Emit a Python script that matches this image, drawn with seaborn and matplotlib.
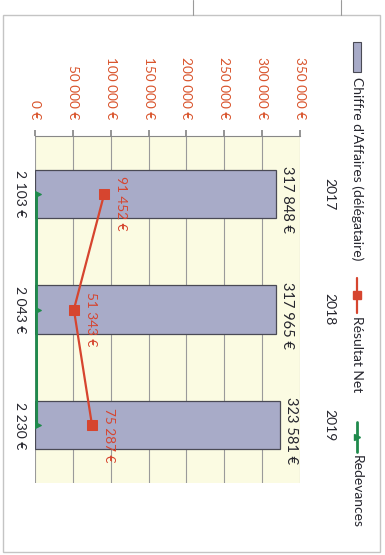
import numpy as np
import pandas as pd
import matplotlib
matplotlib.use("Agg")
import matplotlib.pyplot as plt
from matplotlib.lines import Line2D
from matplotlib.patches import Rectangle
import seaborn as sns

# ---- data ----
annees = ["2017", "2018", "2019"]
chiffre_affaires = [317848, 317965, 323581]
resultat_net = [91452, 51343, 75287]
redevances = [2103, 2043, 2230]
ticks_values = [0, 50000, 100000, 150000, 200000, 250000, 300000, 350000]
legend_labels = ["Chiffre d'Affaires (délégataire)", "Résultat Net", "Redevances"]

def euro(v):
    return f"{v:,}".replace(",", " ") + " €"

sns.set_theme(style="white")
plt.rcParams["font.family"] = ["Lato", "DejaVu Sans"]

W, H = 385, 555
fig = plt.figure(figsize=(W / 100, H / 100), dpi=100)
fig.patch.set_facecolor("white")

def fx(px):
    return px / W

def fy(py):
    return 1 - py / H

# plot area (chart is shown rotated 90 degrees clockwise)
ax = fig.add_axes([fx(35), fy(483), fx(300) - fx(35), fy(136) - fy(483)])
ax.set_facecolor("#fbfbe2")

BAR = "#a8abc8"
RED = "#d6452f"
GREEN = "#1f8a4c"
TXT = "#26262e"

df = pd.DataFrame({"annee": annees, "ca": chiffre_affaires})
sns.barplot(data=df, x="ca", y="annee", orient="h", color=BAR, saturation=1,
            width=0.42, edgecolor="#4a4a55", linewidth=0.9, ax=ax, zorder=3)

pos = np.arange(len(annees))
sns.lineplot(x=resultat_net, y=pos, orient="y", sort=False, color=RED, lw=1.6,
             marker="s", markersize=7, markeredgecolor=RED, ax=ax, zorder=5)
sns.lineplot(x=redevances, y=pos, orient="y", sort=False, color=GREEN, lw=2.0,
             marker=">", markersize=6, markeredgecolor=GREEN, ax=ax, zorder=5)

ax.set_xlim(0, 350000)
ax.set_ylim(2.5, -0.5)
ax.set_xlabel("")
ax.set_ylabel("")

# value axis (top of picture)
ax.xaxis.tick_top()
ax.set_xticks(ticks_values, labels=[euro(v) for v in ticks_values])
for lab in ax.get_xticklabels():
    lab.set_rotation(-90)
    lab.set_color("#d9542c")
    lab.set_fontsize(9.8)
ax.tick_params(axis="x", which="both", top=True, bottom=False, length=4,
               color="#888888", pad=8)

# category axis (right of picture)
ax.yaxis.tick_right()
ax.set_yticks(pos, labels=annees)
for lab in ax.get_yticklabels():
    lab.set_rotation(-90)
    lab.set_color(TXT)
    lab.set_fontsize(10)
    lab.set_va("center")
ax.tick_params(axis="y", which="both", right=False, left=False, length=0, pad=17)

ax.grid(axis="x", color="#9a9a9a", lw=0.8, zorder=0)
ax.grid(axis="y", visible=False)
for s in ["left", "right", "bottom"]:
    ax.spines[s].set_visible(False)
ax.spines["top"].set_color("#888888")
ax.spines["top"].set_linewidth(0.8)

# data labels
for i, v in enumerate(chiffre_affaires):
    ax.annotate(euro(v), (v, i), xytext=(3, -4), textcoords="offset points",
                rotation=-90, ha="left", va="center", fontsize=10.5, color=TXT, zorder=6)
for i, v in enumerate(resultat_net):
    ax.annotate(euro(v), (v, i), xytext=(12, -7), textcoords="offset points",
                rotation=-90, ha="center", va="center", fontsize=9.8, color=RED, zorder=6)
for i, v in enumerate(redevances):
    ax.annotate(euro(v), (v, i), xytext=(-12, 0), textcoords="offset points",
                rotation=-90, ha="center", va="center", fontsize=10, color=TXT, zorder=6)

# manual (rotated) legend
lx = 357
fig.add_artist(Rectangle((fx(353), fy(72)), fx(8), fy(42) - fy(72),
                         transform=fig.transFigure, facecolor=BAR,
                         edgecolor="#4a4a55", lw=0.8))
fig.text(fx(lx), fy(77), legend_labels[0], rotation=-90, ha="center", va="top",
         fontsize=10, color=TXT)
fig.add_artist(Line2D([fx(lx), fx(lx)], [fy(278), fy(313)], transform=fig.transFigure,
                      color=RED, lw=1.6))
fig.add_artist(Line2D([fx(lx)], [fy(295)], transform=fig.transFigure, color=RED,
                      marker="s", markersize=6, lw=0))
fig.text(fx(lx), fy(316), legend_labels[1], rotation=-90, ha="center", va="top",
         fontsize=10, color=TXT)
fig.add_artist(Line2D([fx(lx), fx(lx)], [fy(422), fy(452)], transform=fig.transFigure,
                      color=GREEN, lw=2.0))
fig.add_artist(Line2D([fx(lx)], [fy(437)], transform=fig.transFigure, color=GREEN,
                      marker=">", markersize=5, lw=0))
fig.text(fx(lx), fy(455), legend_labels[2], rotation=-90, ha="center", va="top",
         fontsize=10, color=TXT)

# chart frame and scan lines at the top
fig.add_artist(Rectangle((fx(3), fy(552)), fx(380) - fx(3), fy(15) - fy(552),
                         transform=fig.transFigure, facecolor="none",
                         edgecolor="#c4c4c4", lw=1.0))
for x in (193, 341):
    fig.add_artist(Line2D([fx(x), fx(x)], [fy(0), fy(15)], transform=fig.transFigure,
                          color="#9a9a9a", lw=0.8))

fig.savefig("out.png", dpi=100, facecolor="white")
